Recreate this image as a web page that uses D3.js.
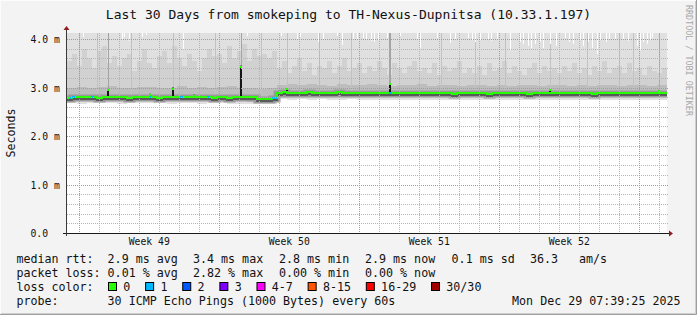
<!DOCTYPE html>
<html><head><meta charset="utf-8">
<script src="https://cdn.jsdelivr.net/npm/d3@7"></script>
<style>
html,body{margin:0;padding:0;background:#f3f3f3;}
svg{display:block;}
text{font-family:"DejaVu Sans Mono",monospace;}
</style></head><body>
<svg id="c" width="697" height="315"></svg>
<script>
// ---------------- DATA ----------------
const titleText = "Last 30 Days from smokeping to TH-Nexus-Dupnitsa (10.33.1.197)";
const yLabel = "Seconds";
const watermark = "RRDTOOL / TOBI OETIKER";
const yTickValues = [0, 1, 2, 3, 4];
const yTickLabels = ["0.0", "1.0 m", "2.0 m", "3.0 m", "4.0 m"];
const weekLabelFormat = "Week %V";

// median RTT (ms), one value per 6 hours, 30 days
const median = [
 2.79,2.80,2.80,2.80,2.81,2.80,2.79,2.80,2.80,2.81,
 2.80,2.80,2.79,2.80,2.81,2.80,2.80,2.80,2.79,2.80,
 2.80,2.81,2.80,2.81,2.80,2.80,2.80,2.81,2.80,2.79,
 2.80,2.80,2.79,2.80,2.80,2.80,2.80,2.80,2.77,2.77,2.77,2.79,
 2.89,2.90,2.89,2.89,2.89,2.89,2.90,2.89,2.89,2.89,
 2.89,2.89,2.90,2.89,2.89,2.89,2.89,2.89,
 2.89,2.89,2.88,2.89,2.89,2.89,2.89,2.88,2.89,2.89,
 2.89,2.88,2.88,2.88,2.88,2.88,2.88,2.87,2.88,2.88,
 2.88,2.88,2.88,2.88,2.87,2.88,2.88,2.88,2.88,2.88,
 2.88,2.88,2.87,2.88,2.88,2.88,2.89,2.88,2.88,2.88,
 2.88,2.88,2.88,2.88,2.88,2.87,2.88,2.88,2.88,2.88,
 2.88,2.88,2.88,2.88,2.88,2.88,2.88,2.89,2.88,2.88
];
// upper smoke streaks (ms), per 6 hours
const p90 = [
 3.55,3.70,3.45,3.80,3.60,3.40,3.75,3.85,3.50,3.65,
 3.45,3.60,3.70,3.35,3.55,3.80,3.50,3.40,3.65,3.75,
 3.50,3.85,3.60,3.45,3.70,3.55,3.35,3.60,3.80,3.65,
 3.70,3.50,3.85,3.60,3.75,3.90,3.55,3.80,3.65,3.70,3.60,3.75,
 3.40,3.55,3.30,3.45,3.60,3.35,3.50,3.25,3.45,3.40,
 3.55,3.30,3.45,3.60,3.35,3.40,3.50,3.30,
 3.45,3.35,3.55,3.40,3.25,3.50,3.40,3.30,3.45,3.55,
 3.35,3.40,3.30,3.50,3.25,3.45,3.35,3.40,3.55,3.30,
 3.40,3.30,3.45,3.25,3.50,3.35,3.40,3.55,3.30,3.45,
 3.35,3.25,3.40,3.50,3.30,3.45,3.35,3.40,3.30,3.45,
 3.35,3.50,3.30,3.40,3.25,3.45,3.35,3.55,3.30,3.40,
 3.45,3.30,3.50,3.35,3.40,3.25,3.45,3.35,3.30,3.40
];
// dense smoke top (ms), per 12 hours
const p75 = [
 3.00,3.02,2.98,3.01,3.03,2.99,3.00,3.02,3.01,2.98,3.00,3.03,2.99,3.01,3.00,3.02,3.04,2.99,3.00,2.97,2.98,
 3.06,3.08,3.05,3.07,3.06,3.04,3.07,3.05,3.06,3.08,3.05,3.04,3.06,3.05,3.07,3.04,3.05,3.06,3.04,3.05,
 3.06,3.03,3.05,3.04,3.06,3.05,3.04,3.06,3.05,3.03,3.05,3.04,3.06,3.05,3.04,3.05,3.06,3.04,3.05
];
// lower edge of dense smoke (ms), per 12 hours
const p10 = [
 2.74,2.74,2.73,2.74,2.74,2.74,2.73,2.74,2.74,2.74,2.73,2.74,2.74,2.74,2.74,2.73,2.74,2.72,2.71,2.72,2.73,
 2.83,2.83,2.83,2.83,2.82,2.83,2.83,2.82,2.82,2.82,2.82,2.82,2.81,2.82,2.82,2.82,2.82,2.81,2.82,2.82,
 2.82,2.82,2.81,2.82,2.82,2.82,2.82,2.81,2.82,2.82,2.82,2.82,2.81,2.82,2.82,2.82,2.82,2.82,2.82
];
// lowest ping (ms), per 12 hours
const pMin = [
 2.68,2.67,2.68,2.69,2.68,2.67,2.68,2.68,2.69,2.68,2.67,2.68,2.68,2.67,2.68,2.69,2.66,2.67,2.66,2.66,2.67,
 2.76,2.75,2.76,2.75,2.76,2.75,2.75,2.76,2.75,2.75,2.74,2.75,2.75,2.74,2.75,2.75,2.74,2.75,2.75,2.74,
 2.75,2.75,2.74,2.75,2.75,2.75,2.74,2.75,2.75,2.74,2.75,2.75,2.74,2.75,2.75,2.74,2.75,2.75,2.75
];
// moments where the highest ping stayed below the top of the graph (day offset, ms)
const dipDays = [0.79,2.74,2.85,3.10,3.74,3.95,5.82,8.99,10.70,11.49,11.65,12.53,12.80,13.49,13.74,14.30,14.49,14.80,14.95,15.20,
 15.35,15.55,15.99,16.65,17.49,17.65,18.49,19.15,19.40,20.05,20.25,20.40,20.65,21.05,21.20,21.50,22.15,22.65,22.80,23.05,
 23.20,23.40,23.65,23.80,24.15,24.45,24.90,25.10,25.30,25.65,25.80,26.05,26.25,26.49,26.65,26.95,27.10,27.40,27.80,28.05,
 28.49,28.65,28.80,29.00,29.15,29.25];
const dipMax = [4.04,4.00,4.04,3.96,4.04,4.08,3.79,4.06,4.06,3.98,4.04,3.94,3.98,4.06,3.88,3.98,3.98,4.02,4.00,3.96,
 3.94,3.98,4.02,4.06,3.98,3.81,4.02,3.92,3.98,4.02,3.98,3.94,3.98,4.00,3.96,3.98,3.77,3.94,3.90,3.86,
 3.81,3.90,3.94,3.81,3.90,3.86,4.02,3.94,3.90,3.98,3.86,3.94,3.81,3.69,3.98,3.94,3.98,3.98,3.98,3.96,
 3.86,3.77,3.94,3.90,3.98,4.02];
// median spikes (day offset, peak ms)
const spikeDays = [2.07,4.15,5.28,6.37,8.68,11.00,16.15,24.15,29.60];
const spikeTop  = [2.96,2.87,3.00,2.85,3.45,2.99,3.09,2.96,2.95];
// smoke columns where many pings were high (day offsets)
const heavyStreakDays = [2.07,8.68,16.12,16.17,29.60];
const lightStreakDays = [0.6,1.5,3.2,5.28,7.4,9.7,11.0,12.6,14.2,18.7,20.4,21.9,24.15,26.0,27.6,28.3];
// moments with 1 lost packet (day offsets)
const lossOneDays = [0.15,0.30,1.25,4.15,5.70,7.05,10.30,10.45,16.15];

const statsLine1 = ["median rtt:", "2.9 ms avg", "3.4 ms max", "2.8 ms min", "2.9 ms now", "0.1 ms sd", "36.3", "am/s"];
const statsLine2 = ["packet loss:", "0.01 % avg", "2.82 % max", "0.00 % min", "0.00 % now"];
const lossLabels = ["0","1","2","3","4-7","8-15","16-29","30/30"];
const lossColors = ["#26ff00","#00b8ff","#0059ff","#7e00ff","#ff00ff","#ff5500","#ff0000","#a10000"];
const probeText = "30 ICMP Echo Pings (1000 Bytes) every 60s";
const stampText = "Mon Dec 29 07:39:25 2025";

// ---------------- DRAW ----------------
const W = 697, H = 315;
const svg = d3.select("#c");
svg.append("rect").attr("width", W).attr("height", H).attr("fill", "#f3f3f3");
// frame
svg.append("path").attr("d", `M0.5,${H} V0.5 H${W}`).attr("stroke", "#fcfcfc").attr("fill", "none");
svg.append("path").attr("d", `M0,${H-0.5} H${W-0.5} V0`).attr("stroke", "#9e9e9e").attr("stroke-width", 1).attr("fill", "none");
svg.append("path").attr("d", `M1,${H-1.5} H${W-1.5} V1`).attr("stroke", "#cfcfcf").attr("stroke-width", 1).attr("fill", "none");

const x0 = 67, x1 = 667, yTop = 33, yBot = 233;
const tStart = new Date(Date.UTC(2025, 10, 29, 9, 15));
const tEnd = new Date(+tStart + 30 * 864e5);
const x = d3.scaleUtc().domain([tStart, tEnd]).range([x0, x1]);
const yMax = 200 / 48.5;
const y = d3.scaleLinear().domain([0, yMax]).range([yBot, yTop]);
const tAt = d => new Date(+tStart + d * 864e5);
const H6 = 6 * 36e5;
const t6 = i => new Date(+tStart + i * H6);
const c6 = i => Math.min(i, 119);
const b12 = i => Math.floor(c6(i) / 2);

svg.append("clipPath").attr("id", "pc").append("rect")
  .attr("x", x0).attr("y", yTop).attr("width", x1 - x0).attr("height", yBot - yTop);
const g = svg.append("g").attr("clip-path", "url(#pc)");
g.append("rect").attr("x", x0).attr("y", yTop).attr("width", x1 - x0).attr("height", yBot - yTop).attr("fill", "#ffffff");

const idx = d3.range(121);
function band(lo, hi, fill) {
  const a = d3.area().curve(d3.curveStepAfter)
    .x(i => x(t6(i))).y0(i => y(lo(c6(i)))).y1(i => y(hi(c6(i))));
  g.append("path").attr("d", a(idx)).attr("fill", fill).attr("shape-rendering", "crispEdges");
}
band(i => pMin[b12(i)], i => yMax + 0.5, "#e0e0e0");
band(i => p10[b12(i)], i => p90[i], "#d1d1d1");
band(i => p10[b12(i)], i => p75[b12(i)], "#bdbdbd");

// streak columns
const medAt = d => median[Math.min(119, Math.floor(d * 4))];
const p10At = d => p10[Math.min(59, Math.floor(d * 2))];
g.selectAll("rect.ls").data(lightStreakDays).join("rect").attr("class", "ls")
  .attr("x", d => Math.round(x(tAt(d)))).attr("width", 1)
  .attr("y", y(yMax)).attr("height", d => y(p10At(d)) - y(yMax)).attr("fill", "#c2c2c2");
g.selectAll("rect.hs").data(heavyStreakDays).join("rect").attr("class", "hs")
  .attr("x", d => Math.round(x(tAt(d)))).attr("width", 1)
  .attr("y", y(yMax)).attr("height", d => y(p10At(d)) - y(yMax)).attr("fill", "#a4a4a4");

// white dips at top
g.selectAll("rect.dip").data(dipDays).join("rect").attr("class", "dip")
  .attr("x", d => Math.round(x(tAt(d)))).attr("width", 1)
  .attr("y", y(yMax)).attr("height", (d, i) => y(dipMax[i]) - y(yMax)).attr("fill", "#ffffff");

// dark core around the median
const medLine = d3.line().curve(d3.curveStepAfter).x(i => x(t6(i))).y(i => Math.round(y(median[c6(i)])));
g.append("path").attr("d", medLine(idx)).attr("fill", "none").attr("stroke", "#9a9a9a").attr("stroke-width", 7)
  .attr("transform", "translate(0,1)");
g.append("path").attr("d", medLine(idx)).attr("fill", "none").attr("stroke", "#5a5a5a").attr("stroke-width", 2)
  .attr("transform", "translate(0,2)");

// spikes
g.selectAll("rect.sp").data(spikeDays).join("rect").attr("class", "sp")
  .attr("x", d => Math.round(x(tAt(d))) - 1).attr("width", 2)
  .attr("y", (d, i) => y(spikeTop[i])).attr("height", (d, i) => Math.max(0, y(medAt(d)) - y(spikeTop[i])))
  .attr("fill", "#161616");

// median line (0 loss colour)
g.append("path").attr("d", medLine(idx)).attr("fill", "none").attr("stroke", lossColors[0]).attr("stroke-width", 2);
g.selectAll("rect.sptop").data(spikeDays).join("rect").attr("class", "sptop")
  .attr("x", d => Math.round(x(tAt(d))) - 1).attr("width", 2)
  .attr("y", (d, i) => Math.round(y(spikeTop[i]))).attr("height", 2).attr("fill", lossColors[0]);
// one lost packet
g.selectAll("rect.l1").data(lossOneDays).join("rect").attr("class", "l1")
  .attr("x", d => Math.round(x(tAt(d))) - 1).attr("width", 3)
  .attr("y", d => Math.round(y(medAt(d))) - 1).attr("height", 2).attr("fill", lossColors[1]);

// grid
const gridG = svg.append("g");
const yMinor = d3.range(1, 21).map(v => v * 0.2).filter(v => Math.abs(v - Math.round(v)) > 1e-6);
gridG.selectAll("line.hm").data(yMinor).join("line")
  .attr("x1", x0).attr("x2", x1 + 1)
  .attr("y1", d => Math.round(y(d)) + 0.5).attr("y2", d => Math.round(y(d)) + 0.5)
  .attr("stroke", "#b4b4b4").attr("stroke-dasharray", "1,1");
const days = d3.utcDay.range(tStart, tEnd);
const sundays = d3.utcSunday.range(tStart, tEnd);
gridG.selectAll("line.vm").data(days.filter(d => d.getUTCDay() !== 0)).join("line")
  .attr("x1", d => Math.round(x(d)) + 0.5).attr("x2", d => Math.round(x(d)) + 0.5)
  .attr("y1", yTop).attr("y2", yBot)
  .attr("stroke", "#b4b4b4").attr("stroke-dasharray", "1,1");
gridG.selectAll("line.hM").data(yTickValues.filter(v => v > 0)).join("line")
  .attr("x1", x0).attr("x2", x1 + 1)
  .attr("y1", d => Math.round(y(d)) + 0.5).attr("y2", d => Math.round(y(d)) + 0.5)
  .attr("stroke", "#e68080").attr("stroke-dasharray", "1,1");
gridG.selectAll("line.vM").data(sundays).join("line")
  .attr("x1", d => Math.round(x(d)) + 0.5).attr("x2", d => Math.round(x(d)) + 0.5)
  .attr("y1", yTop).attr("y2", yBot)
  .attr("stroke", "#e68080").attr("stroke-dasharray", "1,1");

// axes
svg.append("line").attr("x1", 63).attr("x2", 669).attr("y1", yBot + 0.5).attr("y2", yBot + 0.5).attr("stroke", "#1a1a1a");
svg.append("line").attr("x1", 66.5).attr("x2", 66.5).attr("y1", yBot + 3).attr("y2", 29).attr("stroke", "#3a3a3a");
svg.append("path").attr("d", "M669,230.5 L669,236.5 L673,233.5 Z").attr("fill", "#8e1c1c");
svg.append("path").attr("d", "M63.5,30 L69.5,30 L66.5,26 Z").attr("fill", "#8e1c1c");

// y tick labels
svg.selectAll("text.yt").data(yTickValues).join("text").attr("class", "yt")
  .attr("x", 30.5).attr("y", d => Math.round(y(d)) + 3.8)
  .attr("font-size", "9.75px").attr("fill", "#111")
  .text((d, i) => yTickLabels[i]);

// week labels
const fmtWeek = d3.utcFormat(weekLabelFormat);
const weekMids = sundays.map(s => new Date(+s + 3.5 * 864e5)).filter(d => x(d) > x0 && x(d) < x1);
svg.selectAll("text.wk").data(weekMids).join("text").attr("class", "wk")
  .attr("x", d => x(d)).attr("y", 244.5).attr("text-anchor", "middle")
  .attr("font-size", "9.75px").attr("fill", "#111").text(d => fmtWeek(d));

// title, y label, watermark
svg.append("text").attr("x", 348.5).attr("y", 19).attr("text-anchor", "middle")
  .attr("font-size", "13px").attr("fill", "#111").text(titleText);
svg.append("text").attr("transform", "translate(14.5,133) rotate(-90)").attr("text-anchor", "middle")
  .attr("font-size", "11.6px").attr("fill", "#111").text(yLabel);
svg.append("text").attr("transform", "translate(685.5,5) rotate(90)").attr("text-anchor", "start")
  .attr("font-size", "8.4px").attr("fill", "#a8a8a8").text(watermark);

// legend
const lf = "11.67px", cw = 7.02;
const l1x = [16.4, 107.6, 193, 279, 365, 451.6, 530, 579];
statsLine1.forEach((s, i) => svg.append("text").attr("x", l1x[i]).attr("y", 262.5)
  .attr("font-size", lf).attr("fill", "#111").attr("xml:space", "preserve").text(s));
const l2x = [16.4, 107.6, 193, 279, 365];
statsLine2.forEach((s, i) => svg.append("text").attr("x", l2x[i]).attr("y", 276.5)
  .attr("font-size", lf).attr("fill", "#111").text(s));
svg.append("text").attr("x", 16.4).attr("y", 290.5).attr("font-size", lf).attr("fill", "#111").text("loss color:");
let bx = 108;
lossLabels.forEach((lab, i) => {
  svg.append("rect").attr("x", bx + 0.5).attr("y", 282.5).attr("width", 8).attr("height", 8)
    .attr("fill", lossColors[i]).attr("stroke", "#000").attr("stroke-width", 1);
  svg.append("text").attr("x", bx + 15.3).attr("y", 290.5).attr("font-size", lf).attr("fill", "#111").text(lab);
  bx = bx + 15.3 + lab.length * cw + 14.8;
});
svg.append("text").attr("x", 16.4).attr("y", 304.5).attr("font-size", lf).attr("fill", "#111").text("probe:");
svg.append("text").attr("x", 107.6).attr("y", 304.5).attr("font-size", lf).attr("fill", "#111").text(probeText);
svg.append("text").attr("x", 680.5).attr("y", 304.5).attr("text-anchor", "end").attr("font-size", lf).attr("fill", "#111").text(stampText);
</script>
</body></html>
